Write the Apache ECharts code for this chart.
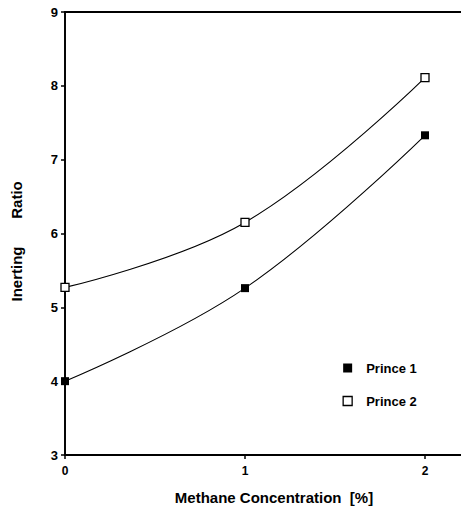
<!DOCTYPE html>
<html>
<head>
<meta charset="utf-8">
<script src="https://cdn.jsdelivr.net/npm/echarts@6/dist/echarts.min.js"></script>
<style>
  html, body { margin: 0; padding: 0; background: #fff; }
  #chart { width: 461px; height: 510px; }
</style>
</head>
<body>
<div id="chart"></div>
<script>
// Methane concentration (%) on the x axis
const concentration = [0, 1, 2];
// Inerting ratio measured for each sample
const prince1 = [4.0, 5.26, 7.33];
const prince2 = [5.27, 6.15, 8.11];
const seriesNames = ['Prince 1', 'Prince 2'];
const xTitle = 'Methane Concentration  [%]';
const yTitleWords = ['Inerting', 'Ratio'];

const FONT = '"Liberation Sans", Arial, Helvetica, sans-serif';

const chart = echarts.init(document.getElementById('chart'), null, { renderer: 'svg' });

const pairs = (ys) => concentration.map((x, i) => [x, ys[i]]);

chart.setOption({
  animation: false,
  backgroundColor: '#ffffff',
  grid: {
    left: 65, top: 12, width: 405, height: 443,
    outerBoundsMode: 'none',
    show: true, borderColor: '#000', borderWidth: 1.8, backgroundColor: 'transparent'
  },
  xAxis: {
    type: 'value', min: 0, max: 2.25, interval: 1,
    axisLine: { lineStyle: { color: '#000', width: 1.8 } },
    axisTick: { show: true, length: 4, lineStyle: { color: '#000', width: 1.5 } },
    axisLabel: {
      color: '#000', fontFamily: FONT, fontWeight: 'bold', fontSize: 12, margin: 10,
      formatter: (v) => (Number.isInteger(v) ? String(v) : '')
    },
    splitLine: { show: false }
  },
  yAxis: {
    type: 'value', min: 3, max: 9, interval: 1,
    axisLine: { show: true, lineStyle: { color: '#000', width: 1.5 } },
    axisTick: { show: true, length: 4, lineStyle: { color: '#000', width: 1.5 } },
    axisLabel: { color: '#000', fontFamily: FONT, fontWeight: 'bold', fontSize: 13, margin: 7 },
    splitLine: { show: false }
  },
  legend: {
    orient: 'vertical', left: 337.5, top: 356.5, itemGap: 20,
    itemWidth: 9, itemHeight: 9,
    textStyle: { color: '#000', fontFamily: FONT, fontWeight: 'bold', fontSize: 13, padding: [0, 0, 0, 9] },
    data: [
      { name: seriesNames[0], icon: 'rect', itemStyle: { color: '#000', borderColor: '#000', borderWidth: 0 } },
      { name: seriesNames[1], icon: 'rect', itemStyle: { color: '#fff', borderColor: '#000', borderWidth: 1.3 } }
    ]
  },
  series: [
    {
      name: seriesNames[0], type: 'line', data: pairs(prince1), smooth: 0.4,
      symbol: 'rect', symbolSize: 8,
      lineStyle: { color: '#000', width: 1.1 },
      itemStyle: { color: '#000', borderColor: '#000', borderWidth: 0 }
    },
    {
      name: seriesNames[1], type: 'line', data: pairs(prince2), smooth: 0.4,
      symbol: 'rect', symbolSize: 8,
      lineStyle: { color: '#000', width: 1.1 },
      itemStyle: { color: '#fff', borderColor: '#000', borderWidth: 1.3 }
    }
  ],
  graphic: [
    {
      type: 'text', x: 274, y: 497,
      style: { text: xTitle, fill: '#000', font: 'bold 15px ' + FONT, align: 'center', verticalAlign: 'middle' }
    },
    {
      type: 'text', x: 16, y: 274, rotation: Math.PI / 2,
      style: { text: yTitleWords[0], fill: '#000', font: 'bold 15px ' + FONT, align: 'center', verticalAlign: 'middle' }
    },
    {
      type: 'text', x: 16, y: 200, rotation: Math.PI / 2,
      style: { text: yTitleWords[1], fill: '#000', font: 'bold 15px ' + FONT, align: 'center', verticalAlign: 'middle' }
    }
  ]
});
</script>
</body>
</html>
